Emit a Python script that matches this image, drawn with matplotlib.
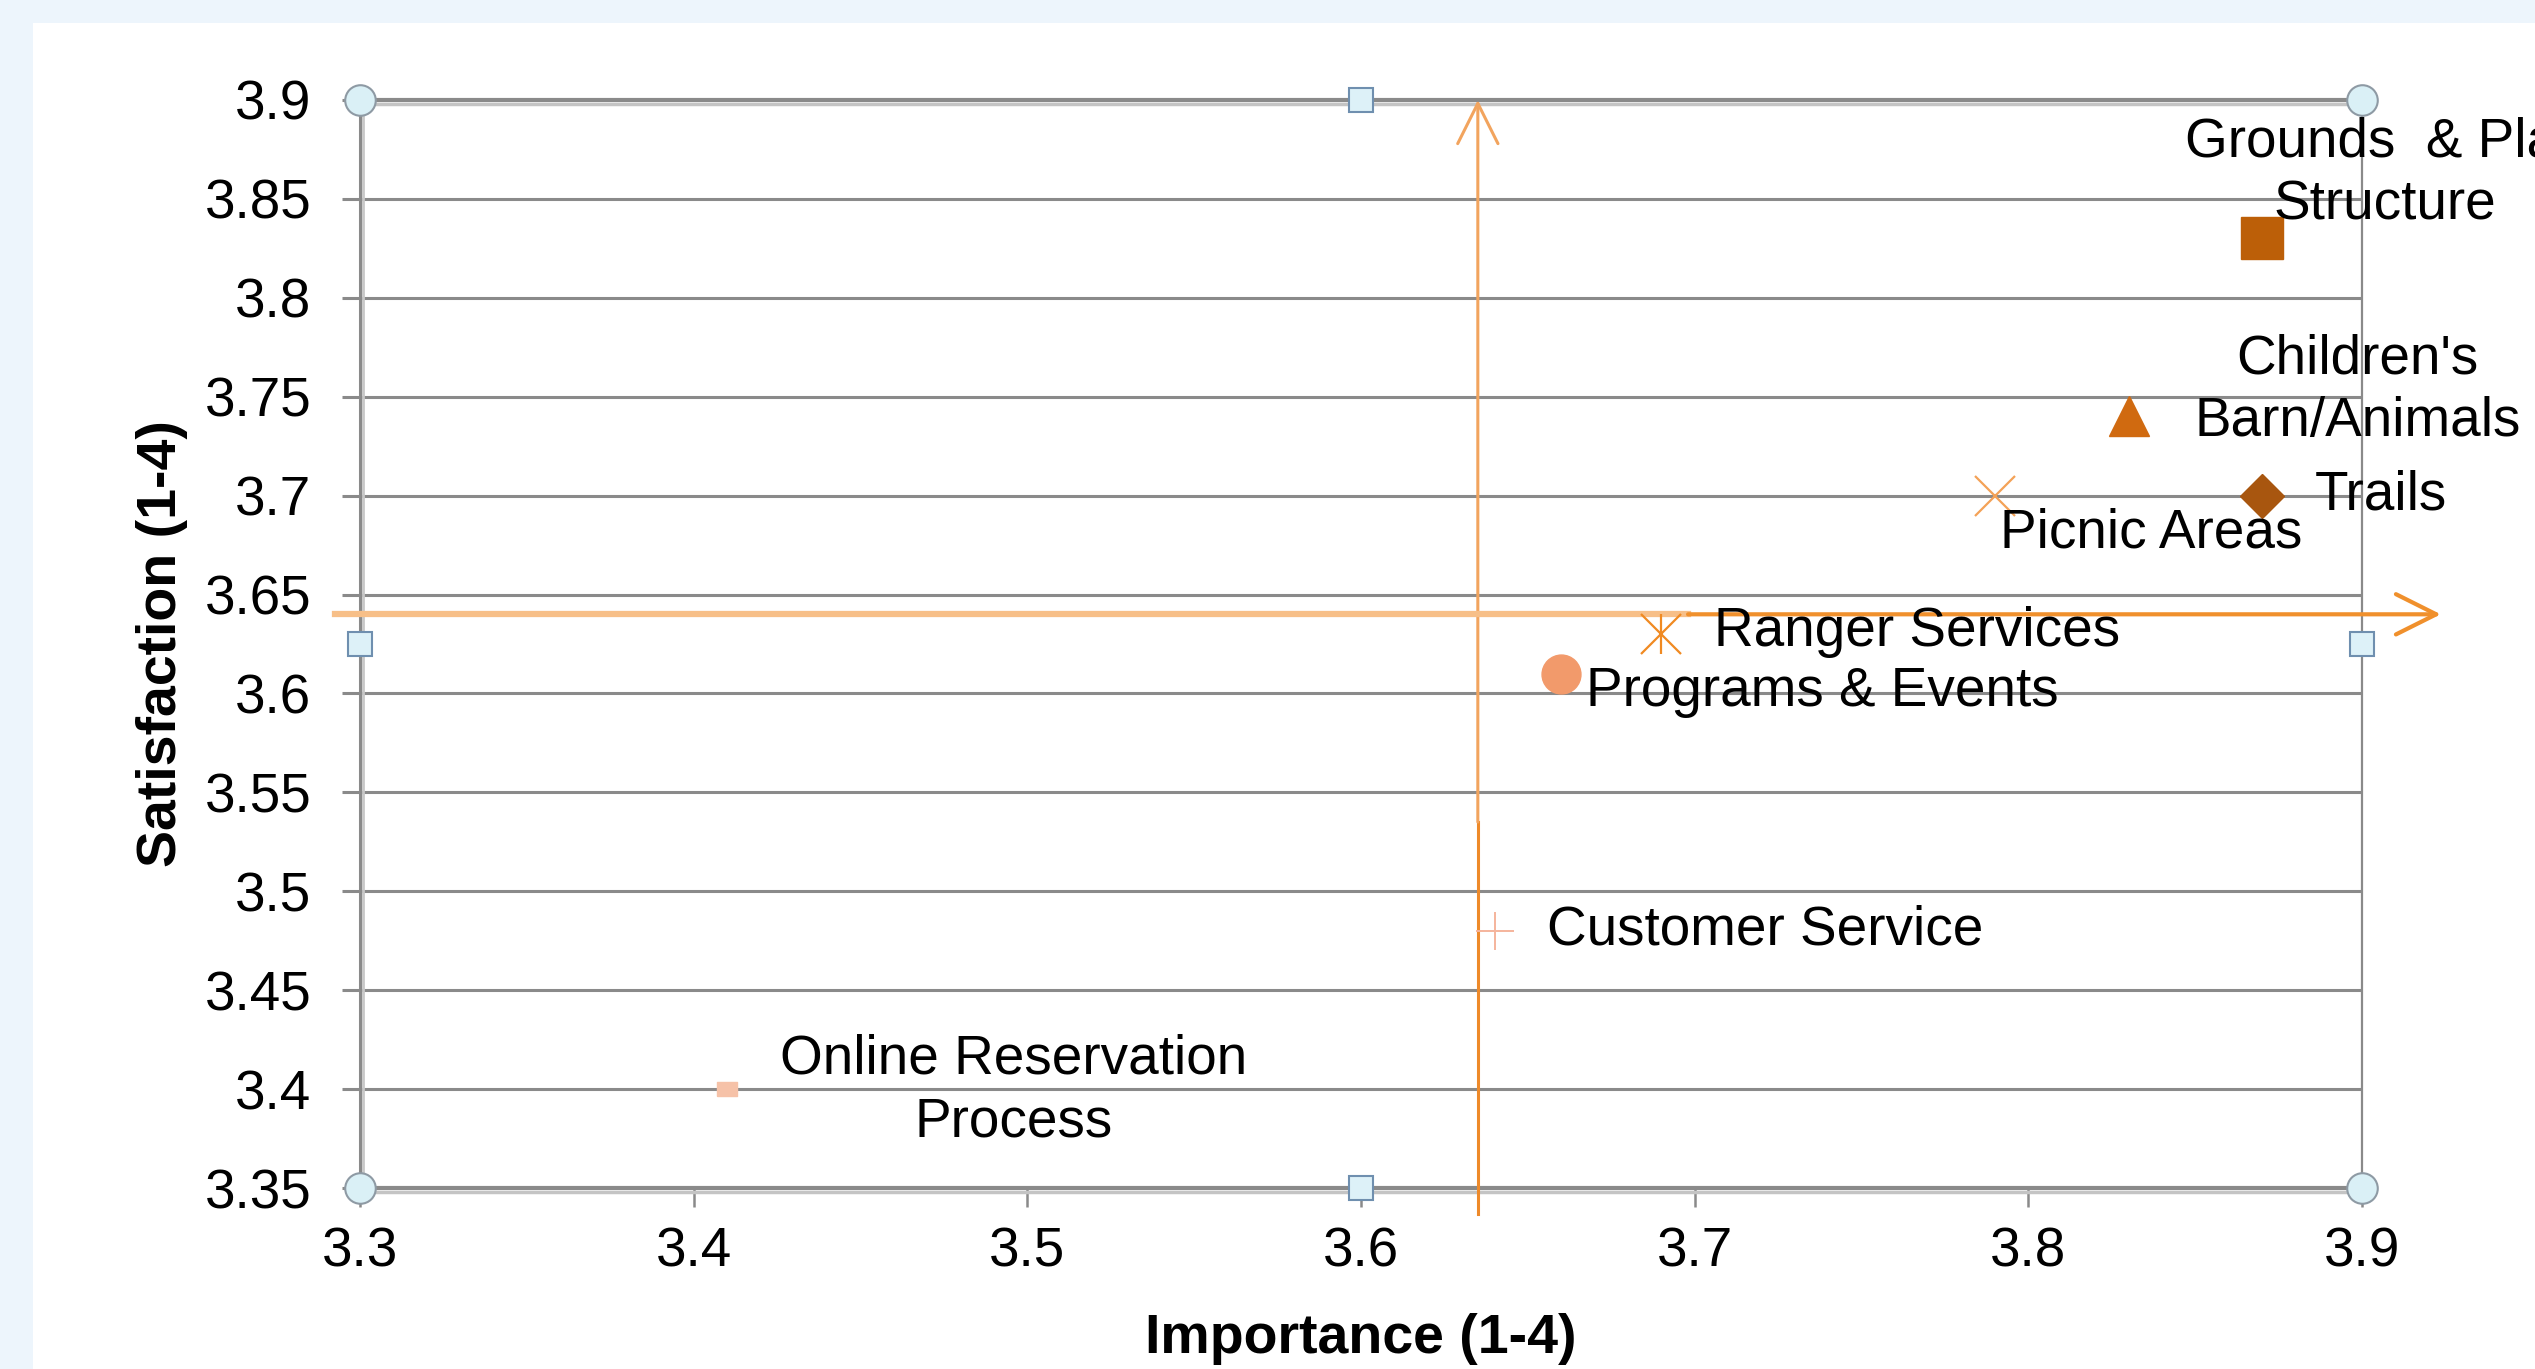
import matplotlib
matplotlib.use("Agg")
import matplotlib.pyplot as plt
import matplotlib.patches as mpatches
from matplotlib.transforms import offset_copy

plt.rcParams['font.family'] = ['Liberation Sans', 'DejaVu Sans']

# ---------------- data ----------------
categories = ["Grounds  & Play\nStructure", "Children's\nBarn/Animals", "Trails",
              "Picnic Areas", "Ranger Services", "Programs & Events",
              "Customer Service", "Online Reservation\nProcess"]
importance = [3.87, 3.83, 3.87, 3.79, 3.69, 3.66, 3.64, 3.41]
satisfaction = [3.83, 3.74, 3.70, 3.70, 3.63, 3.61, 3.48, 3.40]
importance_mean = 3.635
satisfaction_mean = 3.64

x_ticks = [3.3, 3.4, 3.5, 3.6, 3.7, 3.8, 3.9]
x_tick_labels = ["3.3", "3.4", "3.5", "3.6", "3.7", "3.8", "3.9"]
y_ticks = [3.35, 3.4, 3.45, 3.5, 3.55, 3.6, 3.65, 3.7, 3.75, 3.8, 3.85, 3.9]
y_tick_labels = ["3.35", "3.4", "3.45", "3.5", "3.55", "3.6", "3.65", "3.7",
                 "3.75", "3.8", "3.85", "3.9"]

# ---------------- styles ----------------
markers = ['s', '^', 'D', 'x', 'x', 'o', '+',
           [(-1.5, -1), (1.5, -1), (1.5, 1), (-1.5, 1), (-1.5, -1)]]
colors = ['#BC5F08', '#D06A10', '#A8560F', '#F4A257', '#F08A22', '#F29A6B',
          '#F5B49C', '#F6C2A8']
sizes = [30, 29, 22, 29, 29, 28, 28, 15]
mews = [1, 1, 1, 1.6, 1.6, 1, 1.4, 1]
label_offsets = [(123, 64), (229, 26), (53, 0), (5, -38), (53, 2), (25, -18),
                 (52, 0), (287, -2)]
label_ha = ['center', 'center', 'left', 'left', 'left', 'left', 'left', 'center']

FS = 39.5
GRID = '#8A8A8A'

fig = plt.figure(figsize=(25.35, 13.69), dpi=100, facecolor='#EDF5FC')
fig.add_artist(mpatches.Rectangle((33 / 2535, 0), 1, (1369 - 23) / 1369,
                                  transform=fig.transFigure, facecolor='white',
                                  edgecolor='none', zorder=0))
ax = fig.add_axes([0.142, 0.1322, 0.7898, 0.7948])
ax.set_facecolor('white')
ax.set_xlim(3.3, 3.9)
ax.set_ylim(3.35, 3.9)
ax.set_xticks(x_ticks)
ax.set_xticklabels(x_tick_labels)
ax.set_yticks(y_ticks)
ax.set_yticklabels(y_tick_labels)
ax.yaxis.grid(True, color=GRID, lw=2.2)
ax.set_axisbelow(True)
ax.tick_params(axis='y', length=13, width=2.2, color=GRID, pad=22, labelsize=FS)
ax.tick_params(axis='x', length=13.5, width=1.8, color=GRID, pad=14, labelsize=FS)

for side, lw in [('left', 2.2), ('right', 1.6), ('top', 3.0), ('bottom', 3.0)]:
    ax.spines[side].set_color(GRID)
    ax.spines[side].set_linewidth(lw)

# spine shadows
ax.plot([0, 1], [1, 1], transform=offset_copy(ax.transAxes, fig=fig, y=-4, units='dots'),
        color='#C4C4C4', lw=2.5, clip_on=False, zorder=2)
ax.plot([0, 1], [0, 0], transform=offset_copy(ax.transAxes, fig=fig, y=-4, units='dots'),
        color='#C4C4C4', lw=2.5, clip_on=False, zorder=2)
ax.plot([0, 0], [0, 1], transform=offset_copy(ax.transAxes, fig=fig, x=3.5, units='dots'),
        color='#C8C8C8', lw=2.0, clip_on=False, zorder=2)

ax.set_xlabel("Importance (1-4)", fontsize=40, fontweight='bold')
ax.xaxis.set_label_coords(0.5, -0.139)
ax.xaxis.label.set_va('center')
ax.set_ylabel("Satisfaction (1-4)", fontsize=40, fontweight='bold')
ax.yaxis.set_label_coords(-0.099, 0.5)
ax.yaxis.label.set_va('center')

# mean lines with arrows
ax.plot([importance_mean, importance_mean], [3.337, 3.535], color='#EE8A2A', lw=2.2,
        clip_on=False, zorder=3)
ax.annotate('', xy=(importance_mean, 3.9), xytext=(importance_mean, 3.535),
            arrowprops=dict(arrowstyle='->,head_length=1.0,head_width=0.5',
                            mutation_scale=29, color='#F2A45E', lw=2.2,
                            shrinkA=0, shrinkB=0),
            annotation_clip=False, zorder=3)
ax.plot([3.2925, 3.698], [satisfaction_mean, satisfaction_mean], color='#F7BF88', lw=4.5,
        clip_on=False, zorder=3)
ax.annotate('', xy=(3.9236, satisfaction_mean), xytext=(3.698, satisfaction_mean),
            arrowprops=dict(arrowstyle='->,head_length=1.0,head_width=0.5',
                            mutation_scale=29, color='#F0902C', lw=3.0,
                            shrinkA=0, shrinkB=0),
            annotation_clip=False, zorder=3)

# points
for x, y, m, c, s, mw in zip(importance, satisfaction, markers, colors, sizes, mews):
    ax.plot([x], [y], marker=m, ms=s, color=c, mfc=c, mec=c, mew=mw, ls='none',
            zorder=5, clip_on=False)
# asterisk = x + vertical bar for Ranger Services
ax.plot([importance[4]], [satisfaction[4]], marker='|', ms=29, color=colors[4], mew=1.6,
        ls='none', zorder=5)

# labels
for lab, x, y, off, ha in zip(categories, importance, satisfaction, label_offsets, label_ha):
    ax.annotate(lab, xy=(x, y), xytext=off, textcoords='offset pixels', ha=ha, va='center',
                fontsize=FS, linespacing=1.27, multialignment='center',
                annotation_clip=False, zorder=6)

# selection handles at frame corners / midpoints
ax.plot([0, 1, 0, 1], [1, 1, 0, 0], transform=ax.transAxes, marker='o', ms=22, ls='none',
        mfc='#DAF0F6', mec='#8E9AA4', mew=1.5, clip_on=False, zorder=7)
ax.plot([0.5, 0.5, 0, 1], [1, 0, 0.5, 0.5], transform=ax.transAxes, marker='s', ms=17,
        ls='none', mfc='#DDF1F8', mec='#6F8FAF', mew=1.5, clip_on=False, zorder=7)

fig.savefig('out.png', dpi=100, facecolor=fig.get_facecolor())
